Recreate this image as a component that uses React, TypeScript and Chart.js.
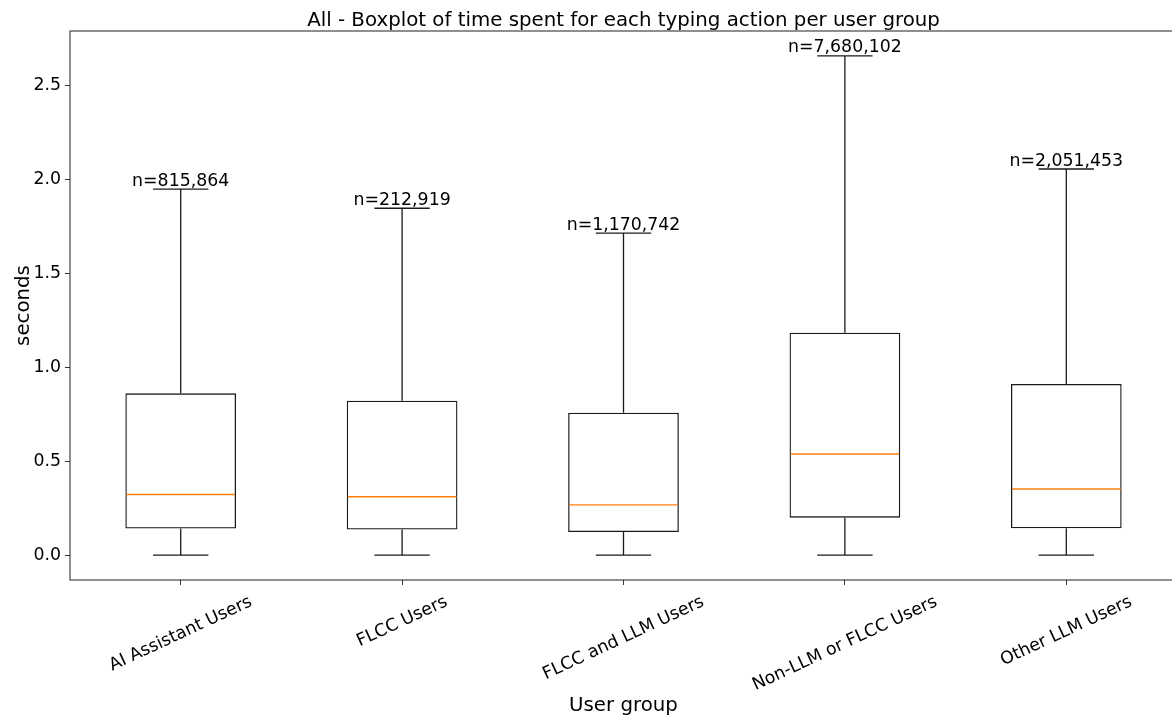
import React, { useEffect, useRef } from "react";
import { Chart, registerables } from "chart.js";

Chart.register(...registerables);

const categories = [
  "AI Assistant Users",
  "FLCC Users",
  "FLCC and LLM Users",
  "Non-LLM or FLCC Users",
  "Other LLM Users",
];
const whiskerLow = [0, 0, 0, 0, 0];
const q1 = [0.141, 0.136, 0.123, 0.199, 0.143];
const medians = [0.322, 0.31, 0.267, 0.538, 0.352];
const q3 = [0.861, 0.822, 0.758, 1.184, 0.911];
const whiskerHigh = [1.949, 1.847, 1.714, 2.658, 2.056];
const counts = [815864, 212919, 1170742, 7680102, 2051453];
const yTicks = [0, 0.5, 1.0, 1.5, 2.0, 2.5];
const yMin = -0.133;
const yMax = 2.791;

const TITLE = "All - Boxplot of time spent for each typing action per user group";
const X_LABEL = "User group";
const Y_LABEL = "seconds";

const FONT = "DejaVu Sans";
const CANVAS_W = 1190;
const CANVAS_H = 720;
const LINE = "#1a1a1a";
const LW = 1.3;

const boxPlugin = {
  id: "boxExtras",
  afterDatasetsDraw(chart: any) {
    const ctx = chart.ctx;
    const xs = chart.scales.x;
    const ys = chart.scales.y;
    const meta = chart.getDatasetMeta(0);
    ctx.save();
    for (let i = 0; i < categories.length; i++) {
      const bar = meta.data[i];
      const cx = xs.getPixelForValue(i);
      const halfBox = bar ? bar.width / 2 : 55;
      const capHalf = halfBox / 2;
      const yq1 = ys.getPixelForValue(q1[i]);
      const yq3 = ys.getPixelForValue(q3[i]);
      const ylo = ys.getPixelForValue(whiskerLow[i]);
      const yhi = ys.getPixelForValue(whiskerHigh[i]);
      ctx.strokeStyle = LINE;
      ctx.lineWidth = LW;
      ctx.beginPath();
      ctx.moveTo(cx, yq3);
      ctx.lineTo(cx, yhi);
      ctx.moveTo(cx, yq1);
      ctx.lineTo(cx, ylo);
      ctx.moveTo(cx - capHalf, yhi);
      ctx.lineTo(cx + capHalf, yhi);
      ctx.moveTo(cx - capHalf, ylo);
      ctx.lineTo(cx + capHalf, ylo);
      ctx.stroke();
      const ym = ys.getPixelForValue(medians[i]);
      ctx.strokeStyle = "#ff7f0e";
      ctx.lineWidth = 1.4;
      ctx.beginPath();
      ctx.moveTo(cx - halfBox + 1, ym);
      ctx.lineTo(cx + halfBox - 1, ym);
      ctx.stroke();
      // n labels
      ctx.fillStyle = "#000";
      ctx.font = `17.33px "${FONT}"`;
      ctx.textAlign = "center";
      ctx.textBaseline = "alphabetic";
      ctx.fillText("n=" + counts[i].toLocaleString("en-US"), cx, yhi - 3.5);
    }
    ctx.restore();
  },
  afterDraw(chart: any) {
    const ctx = chart.ctx;
    const a = chart.chartArea;
    const xs = chart.scales.x;
    ctx.save();
    // frame
    ctx.strokeStyle = "#333";
    ctx.lineWidth = 1.1;
    ctx.strokeRect(a.left, a.top, a.right - a.left, a.bottom - a.top);
    ctx.fillStyle = "#000";
    // title
    ctx.font = `19.8px "${FONT}"`;
    ctx.textAlign = "center";
    ctx.textBaseline = "alphabetic";
    ctx.fillText(TITLE, (a.left + a.right) / 2, 25.5);
    // x label
    ctx.fillText(X_LABEL, (a.left + a.right) / 2, 711);
    // y label
    ctx.save();
    ctx.translate(28.5, (a.top + a.bottom) / 2);
    ctx.rotate(-Math.PI / 2);
    ctx.fillText(Y_LABEL, 0, 0);
    ctx.restore();
    // x tick labels, rotated 25deg, bbox centered on tick
    const ang = (25 * Math.PI) / 180;
    ctx.font = `17.33px "${FONT}"`;
    ctx.textBaseline = "middle";
    const top = 592;
    const h = 20;
    for (let i = 0; i < categories.length; i++) {
      const x = xs.getPixelForValue(i);
      const L = ctx.measureText(categories[i]).width;
      const H = L * Math.sin(ang) + h * Math.cos(ang);
      ctx.save();
      ctx.translate(x, top + H / 2);
      ctx.rotate(-ang);
      ctx.fillText(categories[i], 0, 0);
      ctx.restore();
    }
    ctx.restore();
  },
};

export default function App() {
  const ref = useRef<HTMLCanvasElement | null>(null);
  useEffect(() => {
    if (!ref.current) return;
    const chart = new Chart(ref.current, {
      type: "bar",
      data: {
        labels: categories,
        datasets: [
          {
            data: categories.map((_, i) => [q1[i], q3[i]]) as any,
            backgroundColor: "rgba(255,255,255,0)",
            borderColor: LINE,
            borderWidth: LW,
            borderSkipped: false,
            barPercentage: 0.5,
            categoryPercentage: 1,
          },
        ],
      },
      options: {
        responsive: false,
        animation: false,
        devicePixelRatio: 1,
        layout: { padding: { top: 31, right: 13, left: 0, bottom: 0 } },
        plugins: {
          legend: { display: false },
          title: { display: false },
          tooltip: { enabled: false },
        },
        scales: {
          x: {
            type: "category",
            offset: true,
            grid: {
              display: true,
              drawOnChartArea: false,
              drawTicks: true,
              tickLength: 5,
              color: "#333",
              offset: false,
            },
            border: { display: false },
            ticks: { display: false },
            afterFit: (s: any) => {
              s.height = 140;
            },
          },
          y: {
            type: "linear",
            min: yMin,
            max: yMax,
            grid: {
              display: true,
              drawOnChartArea: false,
              drawTicks: true,
              tickLength: 5,
              color: "#333",
            },
            border: { display: false },
            ticks: {
              color: "#000",
              padding: 4,
              font: { family: FONT, size: 17.33 },
              callback: (v: any) => Number(v).toFixed(1),
            },
            afterBuildTicks: (s: any) => {
              s.ticks = yTicks.map((v) => ({ value: v }));
            },
            afterFit: (s: any) => {
              s.width = 70;
            },
          },
        },
      } as any,
      plugins: [boxPlugin],
    });
    return () => chart.destroy();
  }, []);
  return (
    <div
      style={{
        position: "fixed",
        left: 0,
        top: 0,
        width: 1172,
        height: 720,
        overflow: "hidden",
        background: "#fff",
      }}
    >
      <canvas ref={ref} width={CANVAS_W} height={CANVAS_H} style={{ display: "block" }} />
    </div>
  );
}
